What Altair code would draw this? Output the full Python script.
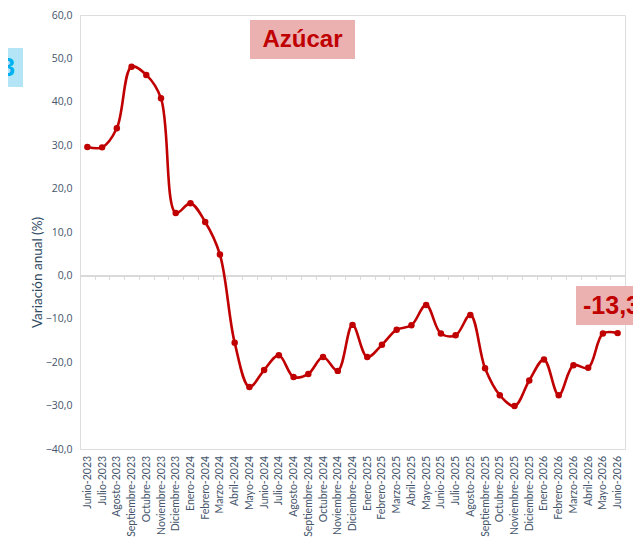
import altair as alt
import pandas as pd

months = ["Junio", "Julio", "Agosto", "Septiembre", "Octubre", "Noviembre", "Diciembre",
          "Enero", "Febrero", "Marzo", "Abril", "Mayo"]
categories = (
    [f"{m}-2023" for m in months[:7]]
    + [f"{m}-2024" for m in months[7:]]
    + [f"{m}-2024" for m in months[:7]]
    + [f"{m}-2025" for m in months[7:]]
    + [f"{m}-2025" for m in months[:7]]
    + [f"{m}-2026" for m in months[7:]]
    + ["Junio-2026"]
)
values = [29.6, 29.5, 33.9, 48.1, 46.2, 40.8, 14.4,
          16.6, 12.3, 4.8, -15.5, -25.7, -21.8, -18.4,
          -23.4, -22.7, -18.8, -22.0, -11.4,
          -18.8, -16.0, -12.5, -11.5, -6.8, -13.4, -13.8,
          -9.1, -21.4, -27.6, -30.1, -24.2,
          -19.4, -27.6, -20.7, -21.3, -13.4, -13.3]

df = pd.DataFrame({"mes": categories, "var": values})

RED = "#C00000"
PINK = "#EBB1B1"
AXC = "#44546A"
W, H = 545, 434

x_enc = alt.X("mes:N", sort=None, title=None,
              scale=alt.Scale(type="band", paddingInner=0, paddingOuter=0),
              axis=alt.Axis(labelAngle=-90, labelFont="Lato", labelFontSize=10.5,
                            labelColor=AXC, offset=-173.6, domainColor="#D9D9D9",
                            domainWidth=2, tickColor="#D9D9D9", tickSize=4,
                            tickBand="extent", labelPadding=176, grid=False,
                            labelBaseline="middle", labelAlign="right"))
y_enc = alt.Y("var:Q", title="Variación anual (%)",
              scale=alt.Scale(domain=[-40, 60], nice=False, zero=False),
              axis=alt.Axis(values=list(range(-40, 61, 10)), grid=False, domain=False,
                            ticks=False, labelPadding=8, labelFont="Open Sans",
                            labelFontSize=10.5, labelColor=AXC,
                            labelExpr="replace(format(datum.value, '.1f'), '.', ',')",
                            titleFont="Lato", titleFontSize=13.5, titleFontWeight="normal",
                            titleColor="#2F4A5F", titleX=-43, titleY=257,
                            titleBaseline="middle"))

base = alt.Chart(df)
line = base.mark_line(color=RED, strokeWidth=2.6, interpolate="catmull-rom").encode(x=x_enc, y=y_enc)
pts = base.mark_circle(color=RED, size=42, opacity=1).encode(x=alt.X("mes:N", sort=None), y="var:Q")

one = pd.DataFrame({"a": [0]})
title_box = alt.Chart(one).mark_rect(color=PINK).encode(
    x=alt.value(170), x2=alt.value(275), y=alt.value(5), y2=alt.value(44))
title_txt = alt.Chart(one).mark_text(text="Azúcar", color=RED, fontSize=24, fontWeight="bold",
                                     font="Liberation Sans", align="center", baseline="middle").encode(
    x=alt.value(222.5), y=alt.value(25))

lab_box = alt.Chart(one).mark_rect(color=PINK).encode(
    x=alt.value(496), x2=alt.value(600), y=alt.value(271), y2=alt.value(310))
lab_txt = alt.Chart(one).mark_text(text="-13,3", color=RED, fontSize=25, fontWeight="bold",
                                   font="Liberation Sans", align="left", baseline="middle").encode(
    x=alt.value(503), y=alt.value(291))

cy_box = alt.Chart(one).mark_rect(color="#B3E5F7").encode(
    x=alt.value(-72), x2=alt.value(-57), y=alt.value(33), y2=alt.value(72))
cy_txt = alt.Chart(one).mark_text(text="3", color="#00B0F0", fontSize=26, fontWeight="bold",
                                  font="Liberation Sans", align="right", baseline="middle").encode(
    x=alt.value(-65), y=alt.value(53))

chart = alt.layer(line, pts, title_box, title_txt, lab_box, lab_txt, cy_box, cy_txt).properties(
    width=W, height=H,
    autosize=alt.AutoSizeParams(type="none"),
    padding={"left": 72, "top": 7, "right": 8, "bottom": 95},
).configure_view(stroke=None).configure(background="white")

chart.save("out.html", embed_options={"renderer": "svg", "actions": False})
